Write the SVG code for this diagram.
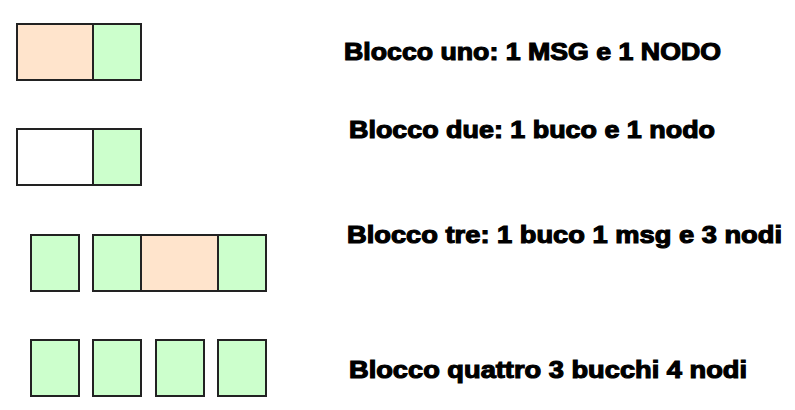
<svg xmlns="http://www.w3.org/2000/svg" width="795" height="410" viewBox="0 0 795 410">
<style>
.b{stroke:#222;stroke-width:2}
.g{fill:#ccffcc}
.p{fill:#ffe4cc}
.w{fill:#ffffff}
.t{font-family:"Liberation Sans",Arial,sans-serif;font-weight:bold;font-size:23px;fill:#000;stroke:#000;stroke-width:1.1}
</style>
<rect width="795" height="410" fill="#fff"/>
<g id="blocco-uno">
<rect class="b p" x="17" y="24" width="76" height="56"/>
<rect class="b g" x="93" y="24" width="48" height="56"/>
<text class="t" x="344" y="60" textLength="377" lengthAdjust="spacingAndGlyphs">Blocco uno: 1 MSG e 1 NODO</text>
</g>
<g id="blocco-due">
<rect class="b w" x="17" y="129" width="76" height="56"/>
<rect class="b g" x="93" y="129" width="48" height="56"/>
<text class="t" x="349" y="138" textLength="366" lengthAdjust="spacingAndGlyphs">Blocco due: 1 buco e 1 nodo</text>
</g>
<g id="blocco-tre">
<rect class="b g" x="31" y="235" width="48" height="56"/>
<rect class="b g" x="93" y="235" width="48" height="56"/>
<rect class="b p" x="141" y="235" width="77" height="56"/>
<rect class="b g" x="218" y="235" width="48" height="56"/>
<text class="t" x="347" y="243" textLength="435" lengthAdjust="spacingAndGlyphs">Blocco tre: 1 buco 1 msg e 3 nodi</text>
</g>
<g id="blocco-quattro">
<rect class="b g" x="31" y="340" width="48" height="56"/>
<rect class="b g" x="93" y="340" width="48" height="56"/>
<rect class="b g" x="156" y="340" width="48" height="56"/>
<rect class="b g" x="218" y="340" width="48" height="56"/>
<text class="t" x="349" y="378" textLength="398" lengthAdjust="spacingAndGlyphs">Blocco quattro 3 bucchi 4 nodi</text>
</g>
<g id="connectors"/>
</svg>
